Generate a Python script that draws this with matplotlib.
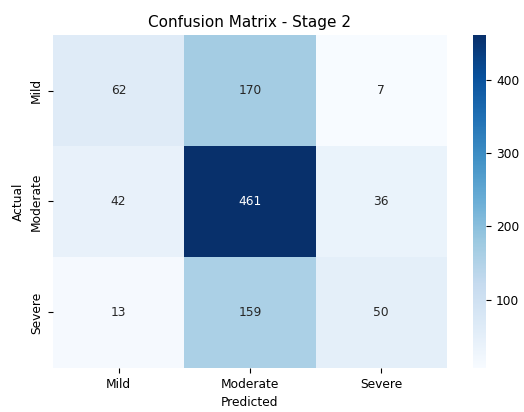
import matplotlib; matplotlib.use("agg")
import matplotlib.pyplot as plt
import numpy as np
import seaborn as sns

labels = ["Mild", "Moderate", "Severe"]
cm = np.array([[62, 170, 7],
               [42, 461, 36],
               [13, 159, 50]])

fig = plt.figure(figsize=(5.24, 4.12), dpi=100)
ax = fig.add_axes([0.101, 0.107, 0.752, 0.808])
cax = fig.add_axes([0.903, 0.107, 0.025, 0.808])

sns.heatmap(cm, annot=True, fmt="d", cmap="Blues",
            xticklabels=labels, yticklabels=labels, ax=ax, cbar_ax=cax,
            annot_kws={"fontsize": 8.8})
cax.tick_params(labelsize=8.8)
ax.tick_params(labelsize=8.8)
ax.set_yticklabels(labels, rotation=90, va="center")
ax.set_xlabel("Predicted", fontsize=8.8)
ax.set_ylabel("Actual", fontsize=8.8)
ax.set_title("Confusion Matrix - Stage 2", fontsize=11)

fig.savefig("out.png", dpi=100)
